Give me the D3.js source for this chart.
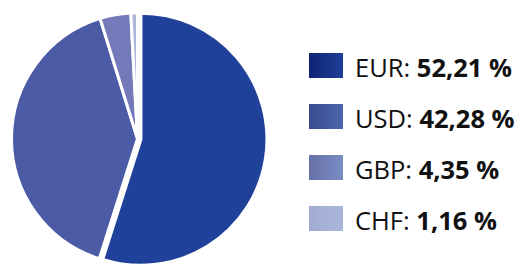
<!DOCTYPE html>
<html>
<head>
<meta charset="utf-8">
<script src="https://cdn.jsdelivr.net/npm/d3@7"></script>
<style>
  html, body { margin: 0; padding: 0; background: #fff; }
  svg { display: block; }
</style>
</head>
<body>
<div id="app"></div>
<script>
const currencies = ["EUR", "USD", "GBP", "CHF"];
// slice sizes as drawn in the picture
const shares = [54.9, 40.3, 3.95, 0.85];
const labels = ["52,21 %", "42,28 %", "4,35 %", "1,16 %"];

const width = 517;
const height = 264;

const sliceColors = ["#20419a", "#4c5ba6", "#7479b9", "#adb6da"];
const swatchFrom = ["#0e2472", "#3b4a8f", "#6670a6", "#a0abcf"];
const swatchTo = ["#1f3f99", "#4a66ae", "#7a8dc5", "#a9b6da"];

const svg = d3.select('#app')
  .append('svg')
  .attr('width', width)
  .attr('height', height);

const defs = svg.append('defs');
currencies.forEach((c, i) => {
  const g = defs.append('linearGradient')
    .attr('id', 'sw' + i)
    .attr('x1', '0%').attr('x2', '100%')
    .attr('y1', '0%').attr('y2', '0%');
  g.append('stop').attr('offset', '0%').attr('stop-color', swatchFrom[i]);
  g.append('stop').attr('offset', '100%').attr('stop-color', swatchTo[i]);
});

const data = currencies.map((c, i) => ({ name: c, value: shares[i], label: labels[i] }));

const pie = d3.pie()
  .sort(null)
  .value(d => d.value);

const radius = 126;
const arc = d3.arc()
  .innerRadius(0)
  .outerRadius(radius);

const color = d3.scaleOrdinal().domain(currencies).range(sliceColors);

// first slice is pulled out a little
const explode = 3.5;

svg.append('g')
  .attr('transform', `translate(137.5, 138.7)`)
  .selectAll('path')
  .data(pie(data))
  .join('path')
  .attr('d', arc)
  .attr('transform', (d, i) => {
    if (i !== 0) return null;
    const a = (d.startAngle + d.endAngle) / 2;
    return `translate(${Math.sin(a) * explode}, ${-Math.cos(a) * explode})`;
  })
  .attr('fill', d => color(d.data.name))
  .attr('stroke', '#fff')
  .attr('stroke-width', 3)
  .attr('stroke-linejoin', 'miter');

// legend
const y = d3.scaleBand()
  .domain(currencies)
  .range([53, 257])
  .paddingInner(0);

const legend = svg.append('g')
  .selectAll('g')
  .data(data)
  .join('g')
  .attr('transform', d => `translate(309, ${y(d.name)})`);

legend.append('rect')
  .attr('width', 34)
  .attr('height', 25)
  .attr('fill', (d, i) => `url(#sw${i})`);

const txt = legend.append('text')
  .attr('x', 46)
  .attr('y', 23.5)
  .attr('font-family', "'Open Sans', sans-serif")
  .attr('font-size', 25.5)
  .attr('fill', '#111');

txt.append('tspan').text(d => d.name + ': ');
txt.append('tspan').attr('font-weight', 'bold').text(d => d.label);
</script>
</body>
</html>
